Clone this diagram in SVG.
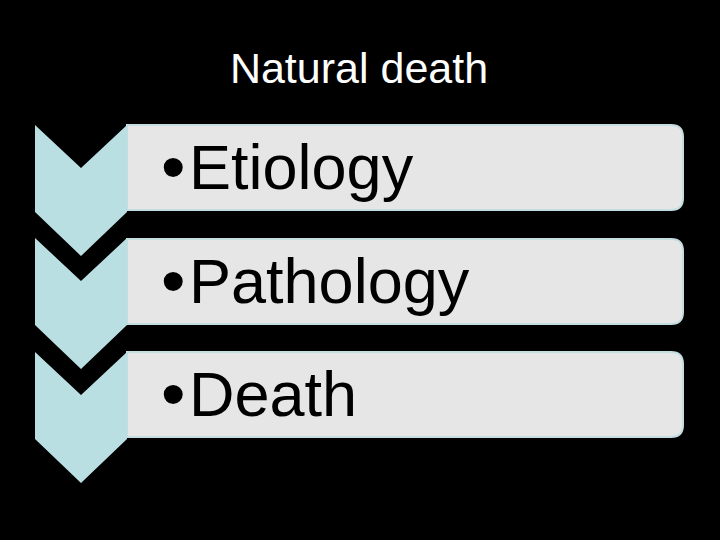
<svg xmlns="http://www.w3.org/2000/svg" width="720" height="540" viewBox="0 0 720 540">
<style>
.chev{fill:#b9dfe3}
.box{fill:#e6e6e6;stroke:#c4dde1;stroke-width:2}
.t{font-family:"Liberation Sans",Arial,sans-serif;fill:#000;font-size:63px}
.title{font-family:"Liberation Sans",Arial,sans-serif;fill:#fff;font-size:43px}
.b{font-family:"Liberation Sans",Arial,sans-serif;fill:#000;font-size:70px}
</style>
<rect width="720" height="540" fill="#000"/>
<text class="title" x="359" y="83" text-anchor="middle">Natural death</text>
<g id="connectors"></g>
<g id="step1">
<path class="box" d="M127,125 H671 Q683,125 683,137 V198 Q683,210 671,210 H127 Z"/>
<path class="chev" d="M35,125 L81,168 L127,125 V212 L81,256 L35,212 Z"/>
<text class="b" x="161" y="191">•</text><text class="t" x="189" y="189">Etiology</text>
</g>
<g id="step2">
<path class="box" d="M127,239 H671 Q683,239 683,251 V312 Q683,324 671,324 H127 Z"/>
<path class="chev" d="M35,238 L81,281 L127,238 V325 L81,369 L35,325 Z"/>
<text class="b" x="161" y="305">•</text><text class="t" x="189" y="303">Pathology</text>
</g>
<g id="step3">
<path class="box" d="M127,352 H671 Q683,352 683,364 V425 Q683,437 671,437 H127 Z"/>
<path class="chev" d="M35,352 L81,395 L127,352 V439 L81,483 L35,439 Z"/>
<text class="b" x="161" y="418">•</text><text class="t" x="189" y="416">Death</text>
</g>
</svg>
